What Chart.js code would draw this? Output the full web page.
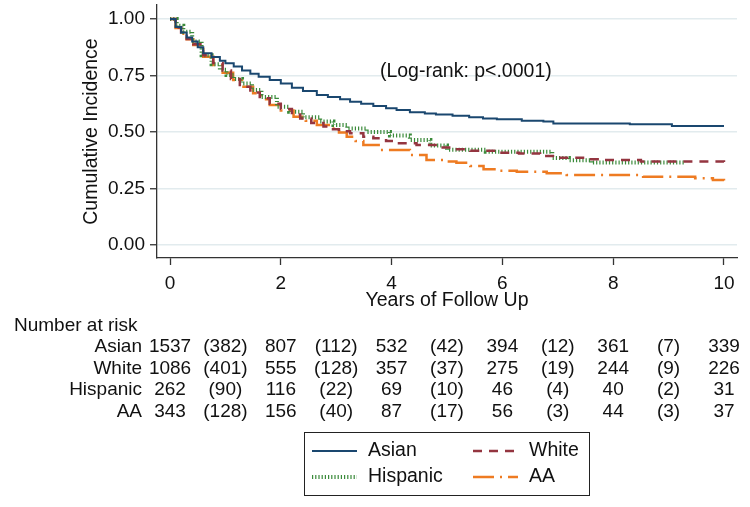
<!DOCTYPE html>
<html>
<head>
<meta charset="utf-8">
<script src="https://cdn.jsdelivr.net/npm/chart.js@4.4.1/dist/chart.umd.min.js"></script>
<style>
  html, body { margin: 0; padding: 0; background: #fff; }
</style>
</head>
<body>
<canvas id="km" width="750" height="507"></canvas>
<script>
// survival curves (years, proportion)
const asianT = [0, .1, .2, .3, .4, .5, .6, .75, .9, 1.0, 1.15, 1.3, 1.45, 1.6, 1.8, 2.0, 2.2, 2.4, 2.65, 2.85, 3.07, 3.25, 3.45, 3.67, 3.9, 4.09, 4.33, 4.6, 4.8, 5.1, 5.4, 5.65, 5.9, 6.35, 6.74, 6.92, 8.3, 9.06, 10];
const asianS = [1, .965, .94, .918, .9, .875, .848, .832, .815, .804, .79, .772, .758, .745, .73, .715, .696, .682, .664, .655, .645, .634, .625, .615, .605, .597, .587, .582, .578, .572, .565, .56, .556, .55, .546, .538, .534, .527, .527];

const whiteT = [0, .1, .2, .3, .42, .6, .78, .95, 1.1, 1.26, 1.45, 1.62, 1.8, 2.0, 2.2, 2.35, 2.55, 2.77, 2.89, 3.05, 3.25, 3.49, 3.67, 3.9, 4.09, 4.45, 4.87, 5.15, 5.42, 5.9, 6.3, 6.68, 6.98, 7.52, 7.76, 8.5, 10];
const whiteS = [1, .962, .94, .912, .888, .84, .805, .772, .735, .70, .675, .649, .625, .602, .578, .56, .54, .524, .512, .503, .494, .479, .472, .46, .45, .442, .431, .424, .417, .408, .405, .394, .386, .38, .376, .369, .367];

const hispT = [0, .12, .24, .4, .57, .75, .9, 1.02, 1.15, 1.3, 1.48, 1.65, 1.93, 2.15, 2.4, 2.71, 2.95, 3.2, 3.55, 3.97, 4.33, 4.7, 5.0, 5.7, 6.9, 7.2, 7.6, 9.3];
const hispS = [1, .97, .944, .9, .84, .8, .775, .752, .735, .715, .686, .655, .612, .59, .565, .546, .531, .515, .5, .485, .465, .44, .422, .413, .385, .375, .365, .365];

const aaT = [0, .1, .2, .3, .42, .6, .78, .95, 1.14, 1.3, 1.5, 1.65, 1.8, 2.0, 2.23, 2.45, 2.65, 2.89, 3.05, 3.19, 3.35, 3.49, 3.79, 4.33, 4.63, 5.0, 5.17, 5.42, 5.66, 5.9, 6.26, 6.8, 7.16, 8.54, 9.48, 9.8, 10];
const aaS = [1, .96, .935, .91, .885, .833, .796, .762, .73, .70, .671, .645, .62, .595, .568, .55, .531, .516, .498, .479, .46, .442, .42, .398, .376, .37, .364, .35, .335, .329, .324, .318, .31, .302, .295, .288, .285];

// number at risk table
const groups = ['Asian', 'White', 'Hispanic', 'AA'];
const riskYears = [0, 2, 4, 6, 8, 10];
const censorYears = [1, 3, 5, 7, 9];
const atRiskAsian = [1537, 807, 532, 394, 361, 339];
const atRiskWhite = [1086, 555, 357, 275, 244, 226];
const atRiskHisp = [262, 116, 69, 46, 40, 31];
const atRiskAA = [343, 156, 87, 56, 44, 37];
const censAsian = [382, 112, 42, 12, 7];
const censWhite = [401, 128, 37, 19, 9];
const censHisp = [90, 22, 10, 4, 2];
const censAA = [128, 40, 17, 3, 3];

const xTicks = [0, 2, 4, 6, 8, 10];
const yTicks = [0, .25, .5, .75, 1];

const FONT = "'Liberation Sans', Arial, sans-serif";
const TXT = '#111';

function pts(t, s) {
    return t.map((v, i) => ({x: v, y: s[i]}));
}

// table, note and legend drawn under the plot
const extras = {
    id: 'extras',
    afterDraw(chart) {
        const ctx = chart.ctx, xs = chart.scales.x, ys = chart.scales.y;
        const atRisk = [atRiskAsian, atRiskWhite, atRiskHisp, atRiskAA];
        const cens = [censAsian, censWhite, censHisp, censAA];
        ctx.save();
        ctx.fillStyle = TXT;
        ctx.textBaseline = 'middle';
        ctx.font = '19.5px ' + FONT;
        ctx.textAlign = 'center';
        ctx.fillText('(Log-rank: p<.0001)', xs.getPixelForValue(5.34), ys.getPixelForValue(0.765));

        ctx.font = '19px ' + FONT;
        ctx.textAlign = 'left';
        ctx.fillText('Number at risk', 14, 326);
        groups.forEach((g, r) => {
            const rowY = 347 + r * 21.5;
            ctx.textAlign = 'right';
            ctx.fillText(g, 142, rowY);
            ctx.textAlign = 'center';
            riskYears.forEach((t, i) => ctx.fillText(String(atRisk[r][i]), xs.getPixelForValue(t), rowY));
            censorYears.forEach((t, i) => ctx.fillText('(' + cens[r][i] + ')', xs.getPixelForValue(t), rowY));
        });

        // legend box
        ctx.strokeStyle = '#222';
        ctx.lineWidth = 1;
        ctx.strokeRect(304.5, 432.5, 285, 63);
        ctx.font = '19.5px ' + FONT;
        [0, 1, 2, 3].forEach(i => {
            const ds = chart.data.datasets[i];
            const col = i % 2, row = Math.floor(i / 2);
            const sx = col ? 473 : 312;
            const ly = row ? 477 : 451;
            ctx.save();
            ctx.strokeStyle = ds.borderColor;
            ctx.lineWidth = ds.borderWidth;
            ctx.setLineDash(ds.borderDash || []);
            ctx.beginPath();
            ctx.moveTo(sx, ly);
            ctx.lineTo(sx + 45, ly);
            ctx.stroke();
            ctx.restore();
            ctx.textAlign = 'left';
            ctx.fillText(ds.label, sx + 56, ly);
        });
        ctx.restore();
    }
};

new Chart(document.getElementById('km'), {
    type: 'line',
    data: {
        datasets: [
            {label: 'Asian', data: pts(asianT, asianS), borderColor: '#1a476f', borderWidth: 2, stepped: true},
            {label: 'White', data: pts(whiteT, whiteS), borderColor: '#943540', borderWidth: 2.5, borderDash: [9, 7], stepped: true},
            {label: 'Hispanic', data: pts(hispT, hispS), borderColor: '#3a8a3a', borderWidth: 4, borderDash: [1.2, 2], stepped: true},
            {label: 'AA', data: pts(aaT, aaS), borderColor: '#ee7b22', borderWidth: 2.5, borderDash: [21, 6, 2, 6], stepped: true}
        ]
    },
    options: {
        responsive: false,
        animation: false,
        layout: {padding: {left: 0, top: 5, right: 13, bottom: 0}},
        elements: {point: {radius: 0}, line: {tension: 0, borderCapStyle: 'butt'}},
        plugins: {legend: {display: false}, tooltip: {enabled: false}},
        scales: {
            x: {
                type: 'linear',
                min: -0.235,
                max: 10.235,
                afterBuildTicks: s => { s.ticks = xTicks.map(v => ({value: v})); },
                afterFit: s => { s.height = 249; s.paddingLeft = 0; s.paddingRight = 0; },
                grid: {drawOnChartArea: false, tickLength: 7, tickColor: '#333', tickWidth: 1.3},
                border: {color: '#333', width: 1.3},
                ticks: {color: TXT, font: {family: FONT, size: 19}, padding: 7, maxRotation: 0},
                title: {display: true, text: 'Years of Follow Up', color: TXT, font: {family: FONT, size: 19.5}, padding: {top: 0, bottom: 195}}
            },
            y: {
                min: -0.0575,
                max: 1.062,
                afterBuildTicks: s => { s.ticks = yTicks.map(v => ({value: v})); },
                afterFit: s => { s.width = 157; s.paddingTop = 0; s.paddingBottom = 0; },
                grid: {color: '#e2ebee', lineWidth: 1.5, tickLength: 7, tickColor: '#333', tickWidth: 1.3},
                border: {color: '#333', width: 1.3},
                ticks: {color: TXT, font: {family: FONT, size: 19}, padding: 5, callback: v => v.toFixed(2)},
                title: {display: true, text: 'Cumulative Incidence', color: TXT, font: {family: FONT, size: 19.5}, padding: {top: 80, bottom: 0}}
            }
        }
    },
    plugins: [extras]
});
</script>
</body>
</html>
